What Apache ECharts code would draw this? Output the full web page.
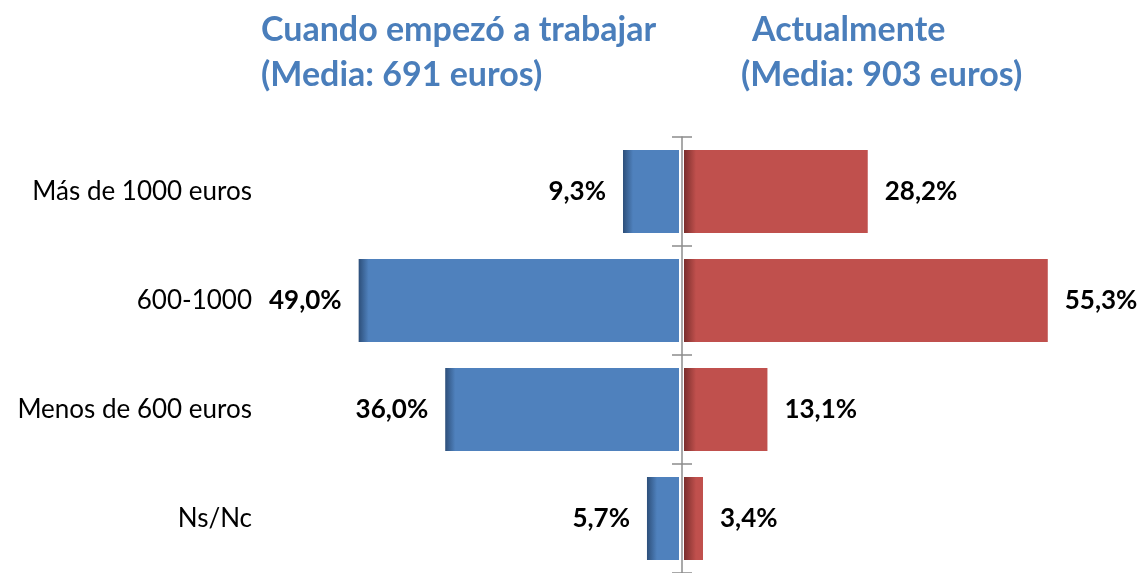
<!DOCTYPE html>
<html>
<head>
<meta charset="utf-8">
<script src="https://cdn.jsdelivr.net/npm/echarts@6/dist/echarts.min.js"></script>
<style>
  html, body { margin: 0; padding: 0; background: #fff; }
  #chart { width: 1145px; height: 573px; }
</style>
</head>
<body>
<div id="chart"></div>
<script>
  // categorias de salario (de arriba a abajo)
  const categorias = ['Más de 1000 euros', '600-1000', 'Menos de 600 euros', 'Ns/Nc'];
  // % cuando empezó a trabajar
  const inicio = [9.3, 49.0, 36.0, 5.7];
  // % actualmente
  const actual = [28.2, 55.3, 13.1, 3.4];

  const azul = '#4f81bd', azulOscuro = '#2d4f7a';
  const rojo = '#c0504d', rojoOscuro = '#7a2e2c';
  const fuente = 'Lato, "Open Sans", sans-serif';

  const chart = echarts.init(document.getElementById('chart'));

  // escala de ejes (las barras arrancan algo detras del eje, se recortan)
  const izqMin = 0.89, izqMax = 50, izqAncho = 327;
  const derMin = 0.54, derMax = 60, derAncho = 395;

  // sombreado en el borde izquierdo de cada barra
  function barra(v, min, max, ancho, claro, oscuro, borde) {
    const px = (v - min) / (max - min) * ancho;
    const s = Math.min(0.9, borde / px);
    return {
      value: v,
      itemStyle: {
        color: new echarts.graphic.LinearGradient(0, 0, 1, 0, [
          { offset: 0, color: oscuro },
          { offset: s, color: claro },
          { offset: 1, color: claro }
        ])
      }
    };
  }

  const fmt = p => p.value.toFixed(1).replace('.', ',') + '%';
  const titulo = { fontFamily: fuente, fontSize: 34, lineHeight: 40, fontWeight: 'bold', color: '#4a7ebb' };
  const tick = { show: true, length: 10, interval: 0, lineStyle: { color: '#8c8c8c', width: 1.5 } };

  const option = {
    backgroundColor: '#fff',
    animation: false,
    title: [
      { text: 'Cuando empezó a trabajar', left: 256, top: 5, textStyle: titulo },
      { text: '(Media: 691 euros)', left: 256, top: 50, textStyle: titulo },
      { text: 'Actualmente', left: 747, top: 5, textStyle: titulo },
      { text: '(Media: 903 euros)', left: 736, top: 50, textStyle: titulo }
    ],
    grid: [
      { left: 352, width: izqAncho, top: 137, bottom: 0 },
      { left: 684, width: derAncho, top: 137, bottom: 0 }
    ],
    xAxis: [
      { gridIndex: 0, type: 'value', min: izqMin, max: izqMax, inverse: true, show: false },
      { gridIndex: 1, type: 'value', min: derMin, max: derMax, show: false }
    ],
    yAxis: [
      {
        gridIndex: 0, type: 'category', data: categorias, inverse: true,
        position: 'right', offset: 3,
        axisLine: { show: true, lineStyle: { color: '#8c8c8c', width: 1.5 } },
        axisTick: tick,
        axisLabel: { show: false }
      },
      {
        gridIndex: 0, type: 'category', data: categorias, inverse: true,
        position: 'left',
        axisLine: { show: false }, axisTick: { show: false },
        axisLabel: { margin: 100, fontFamily: fuente, fontSize: 26, color: '#000' }
      },
      {
        gridIndex: 1, type: 'category', data: categorias, inverse: true,
        position: 'left', offset: 2,
        axisLine: { show: false },
        axisTick: tick,
        axisLabel: { show: false }
      }
    ],
    series: [
      {
        name: 'Cuando empezó a trabajar', type: 'bar',
        xAxisIndex: 0, yAxisIndex: 0, barWidth: 83, clip: true,
        data: inicio.map(v => barra(v, izqMin, izqMax, izqAncho, azul, azulOscuro, 10)),
        label: { show: true, position: 'left', distance: 17, formatter: fmt, fontFamily: fuente, fontSize: 26, fontWeight: 'bold', color: '#000' }
      },
      {
        name: 'Actualmente', type: 'bar',
        xAxisIndex: 1, yAxisIndex: 2, barWidth: 83, clip: true,
        data: actual.map(v => barra(v, derMin, derMax, derAncho, rojo, rojoOscuro, 12)),
        label: { show: true, position: 'right', distance: 17, formatter: fmt, fontFamily: fuente, fontSize: 26, fontWeight: 'bold', color: '#000' }
      }
    ]
  };

  chart.setOption(option);
</script>
</body>
</html>
